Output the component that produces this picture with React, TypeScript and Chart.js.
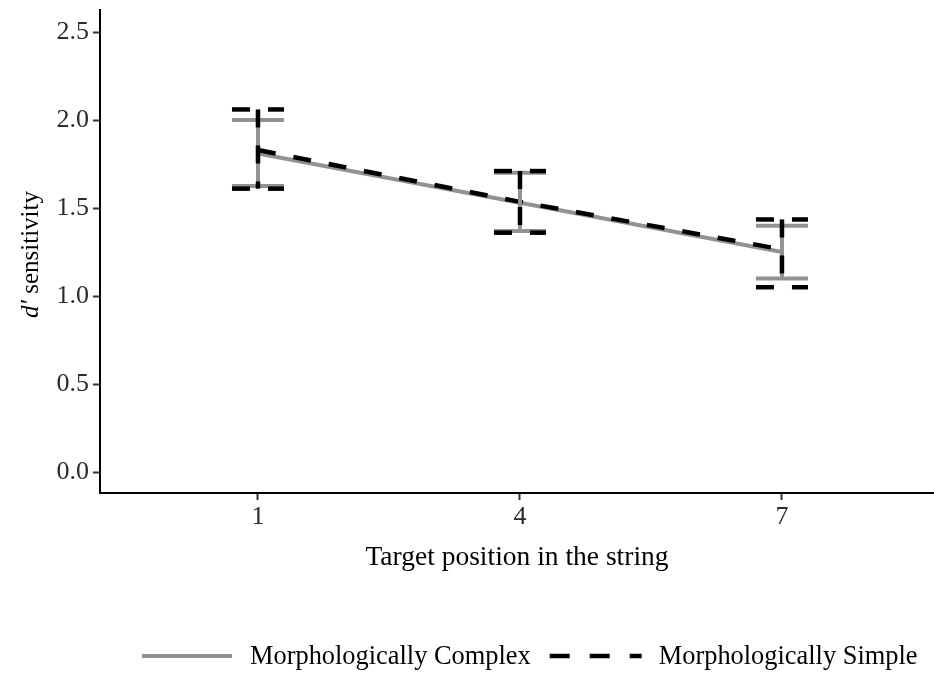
import React, { useEffect, useRef } from 'react';
import { Chart, registerables } from 'chart.js';

Chart.register(...registerables);

// ---- data ----
const positions = [1, 4, 7];
const xTickLabels = ['1', '4', '7'];
const yTicks = [0, 0.5, 1.0, 1.5, 2.0, 2.5];

const complexMean = [1.81, 1.53, 1.25];
const complexLower = [1.625, 1.37, 1.10];
const complexUpper = [2.0, 1.70, 1.40];

const simpleMean = [1.83, 1.535, 1.265];
const simpleLower = [1.61, 1.36, 1.05];
const simpleUpper = [2.06, 1.71, 1.435];

const seriesNames = ['Morphologically Complex', 'Morphologically Simple'];
const xTitle = 'Target position in the string';
const yTitleItalic = 'd\u2032';
const yTitleRest = ' sensitivity';

// ---- styles ----
const FONT = '"Liberation Serif", "Times New Roman", serif';
const GRAY = '#929292';
const BLACK = '#000000';
const DASH = [18, 18];
const CAP_HALF = 26;

const errorBarPlugin = {
  id: 'errorBars',
  afterDatasetsDraw(chart: any) {
    const ctx = chart.ctx;
    const xs = chart.scales.x;
    const ys = chart.scales.y;
    chart.data.datasets.forEach((ds: any) => {
      const lo: number[] = ds.errLower;
      const hi: number[] = ds.errUpper;
      ctx.save();
      ctx.strokeStyle = ds.borderColor;
      ctx.lineWidth = ds.borderWidth;
      ctx.lineCap = 'butt';
      ds.data.forEach((p: any, i: number) => {
        const px = xs.getPixelForValue(p.x);
        const pTop = ys.getPixelForValue(hi[i]);
        const pBot = ys.getPixelForValue(lo[i]);
        const seg = (x1: number, y1: number, x2: number, y2: number) => {
          ctx.setLineDash(ds.borderDash || []);
          ctx.beginPath();
          ctx.moveTo(x1, y1);
          ctx.lineTo(x2, y2);
          ctx.stroke();
        };
        seg(px - CAP_HALF, pTop, px + CAP_HALF, pTop);
        seg(px, pTop, px, pBot);
        seg(px - CAP_HALF, pBot, px + CAP_HALF, pBot);
      });
      ctx.restore();
    });
  },
};

const yTitlePlugin = {
  id: 'yTitle',
  afterDraw(chart: any) {
    const ctx = chart.ctx;
    const area = chart.chartArea;
    const italic = `italic 25px ${FONT}`;
    const normal = `25px ${FONT}`;
    ctx.save();
    ctx.font = italic;
    const w1 = ctx.measureText(yTitleItalic).width;
    ctx.font = normal;
    const w2 = ctx.measureText(yTitleRest).width;
    ctx.translate(31, (area.top + area.bottom) / 2 + 3);
    ctx.rotate(-Math.PI / 2);
    ctx.fillStyle = '#000';
    ctx.textBaseline = 'middle';
    ctx.textAlign = 'left';
    const start = -(w1 + w2) / 2;
    ctx.font = italic;
    ctx.fillText(yTitleItalic, start, 0);
    ctx.font = normal;
    ctx.fillText(yTitleRest, start + w1, 0);
    ctx.restore();
  },
};

const legendPlugin = {
  id: 'bottomLegend',
  afterDraw(chart: any) {
    const ctx = chart.ctx;
    const y = 656;
    ctx.save();
    ctx.font = `26.4px ${FONT}`;
    ctx.textBaseline = 'middle';
    ctx.fillStyle = '#000';
    let x = 142;
    chart.data.datasets.forEach((ds: any, i: number) => {
      const lineLen = i === 0 ? 90 : 92;
      ctx.strokeStyle = ds.borderColor;
      ctx.lineWidth = ds.borderWidth;
      ctx.setLineDash(i === 0 ? [] : [20, 20]);
      ctx.beginPath();
      ctx.moveTo(x, y);
      ctx.lineTo(x + lineLen, y);
      ctx.stroke();
      x += lineLen + (i === 0 ? 18 : 17);
      ctx.setLineDash([]);
      ctx.fillText(seriesNames[i], x, y + 1);
      x += ctx.measureText(seriesNames[i]).width + 19;
    });
    ctx.restore();
  },
};

export default function App() {
  const canvasRef = useRef<HTMLCanvasElement | null>(null);

  useEffect(() => {
    document.body.style.margin = '0';
    const canvas = canvasRef.current;
    if (!canvas) return;
    const chart = new Chart(canvas, {
      type: 'line',
      data: {
        datasets: [
          {
            label: seriesNames[0],
            data: positions.map((x, i) => ({ x, y: complexMean[i] })),
            borderColor: GRAY,
            borderWidth: 4,
            borderDash: [],
            pointRadius: 0,
            fill: false,
            tension: 0,
            order: 2,
            errLower: complexLower,
            errUpper: complexUpper,
          } as any,
          {
            label: seriesNames[1],
            data: positions.map((x, i) => ({ x, y: simpleMean[i] })),
            borderColor: BLACK,
            borderWidth: 4.5,
            borderDash: DASH,
            borderCapStyle: 'butt',
            pointRadius: 0,
            fill: false,
            tension: 0,
            order: 1,
            errLower: simpleLower,
            errUpper: simpleUpper,
          } as any,
        ],
      },
      options: {
        animation: false,
        responsive: false,
        layout: { padding: { top: 10, left: 0, right: 0, bottom: 0 } },
        plugins: {
          legend: { display: false },
          tooltip: { enabled: false },
        },
        scales: {
          x: {
            type: 'linear',
            min: -0.809,
            max: 8.741,
            afterBuildTicks: (scale: any) => {
              scale.ticks = positions.map((v) => ({ value: v }));
            },
            afterFit: (scale: any) => {
              scale.height = 184;
              scale.paddingLeft = 0;
              scale.paddingRight = 0;
            },
            ticks: {
              callback: (v: any) => {
                const idx = positions.indexOf(Number(v));
                return idx >= 0 ? xTickLabels[idx] : '';
              },
              font: { family: FONT, size: 26 },
              color: '#2b2b2b',
              padding: 2,
              maxRotation: 0,
            },
            grid: {
              display: true,
              drawOnChartArea: false,
              drawTicks: true,
              tickLength: 7,
              tickColor: '#333333',
              tickWidth: 2,
            },
            border: { display: true, color: '#000', width: 2 },
            title: {
              display: true,
              text: xTitle,
              font: { family: FONT, size: 27.5 },
              color: '#000',
              padding: { top: 0, bottom: 103 },
            },
          },
          y: {
            type: 'linear',
            min: -0.119,
            max: 2.625,
            afterBuildTicks: (scale: any) => {
              scale.ticks = yTicks.map((v) => ({ value: v }));
            },
            afterFit: (scale: any) => {
              scale.width = 100;
              scale.paddingTop = 0;
              scale.paddingBottom = 0;
            },
            ticks: {
              callback: (v: any) => Number(v).toFixed(1),
              font: { family: FONT, size: 26 },
              color: '#2b2b2b',
              padding: 4,
            },
            grid: {
              display: true,
              drawOnChartArea: false,
              drawTicks: true,
              tickLength: 7,
              tickColor: '#333333',
              tickWidth: 2,
            },
            border: { display: true, color: '#000', width: 2 },
            title: { display: false },
          },
        },
      } as any,
      plugins: [errorBarPlugin, yTitlePlugin, legendPlugin],
    });
    return () => chart.destroy();
  }, []);

  return (
    <div style={{ width: 934, height: 677 }}>
      <canvas ref={canvasRef} width={934} height={677} style={{ display: 'block' }} />
    </div>
  );
}
